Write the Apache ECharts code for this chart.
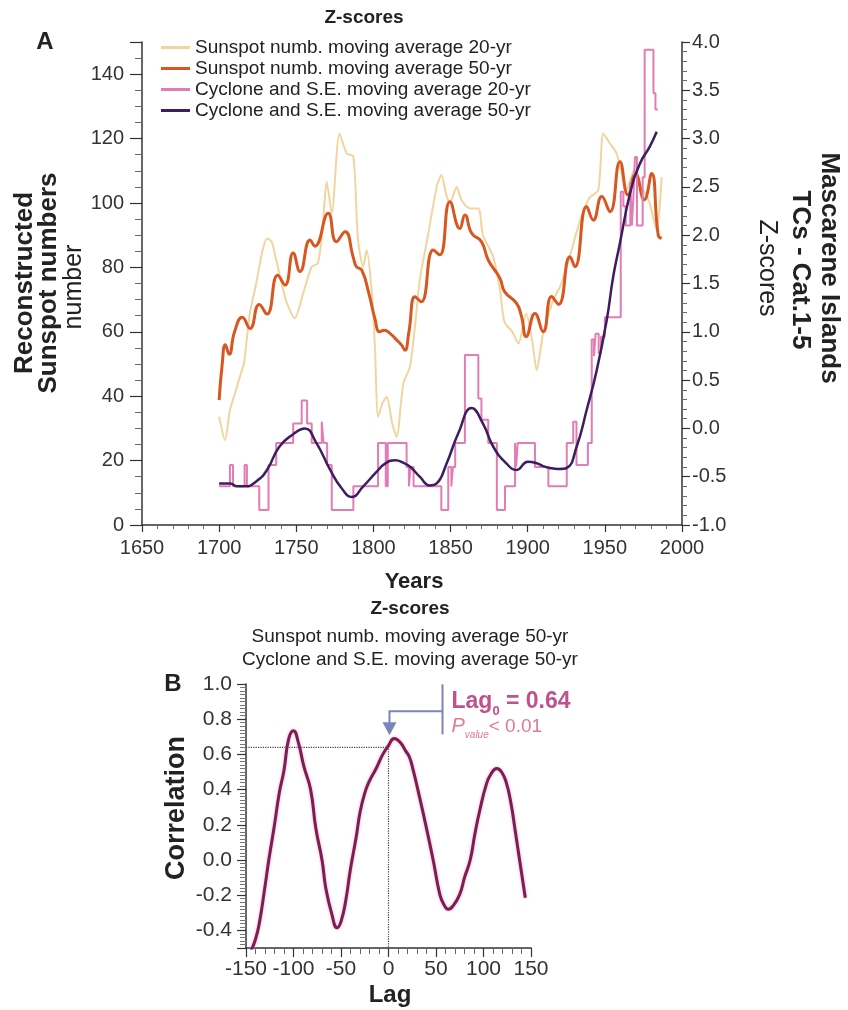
<!DOCTYPE html>
<html><head><meta charset="utf-8">
<script src="https://cdn.jsdelivr.net/npm/echarts@6/dist/echarts.min.js"></script>
<style>html,body{margin:0;padding:0;background:#fff}#c{width:848px;height:1010px}</style>
</head><body><div id="c"></div>
<script>
// ---------- DATA ----------
const sunspot20Years = [1700,1703.8,1707,1711,1714,1716,1718,1720,1724,1728,1731,1734,1737,1741,1744,1749,1754.5,1760,1764,1767,1769.7,1773,1778,1782.7,1787,1790,1793.4,1795.6,1799,1801,1803,1806,1808.6,1812,1815,1819.4,1823.7,1827,1830,1835.6,1841,1844,1847.5,1849.6,1854,1857,1862.6,1868,1871,1877.7,1882,1885,1890,1894,1899,1903,1905.8,1910,1916.6,1921,1927,1934,1940,1945.7,1949,1953.3,1957.6,1960.9,1964,1967,1970,1973,1976,1979,1983.6,1986.8];
const sunspot20Values = [33.6,26.4,35.7,42,47,50,58,66,75,85,89,88,82.3,74,68.8,64.2,72,80.2,81.3,92,106.6,96.8,121.6,115.4,114.4,88.5,80.2,85.4,72,55,33.6,38,39.8,32,27.4,44,49.2,62,76,90.6,105,108.7,102,100,105,101,98.3,98.3,90,83.3,73,63,60,56.4,65.7,57,48.1,59.5,70,74,83,94.7,101.6,104,121.6,118.5,115.4,109.2,104,108,111,106,103,100,91.6,108];

const sunspot50Years = [1700,1702,1704,1706.5,1710,1715,1720,1726,1731,1738,1742.7,1748,1752.4,1758.9,1762,1770.7,1776,1781.6,1787,1789,1792.4,1797,1801,1804,1807,1810.7,1815,1818,1820.4,1823,1827,1831,1838.8,1843,1849.6,1856,1859.3,1863.7,1870,1874.4,1882,1885,1892.8,1896,1899,1904.7,1910,1915.5,1920,1927.4,1930.6,1938.2,1942.5,1948,1953.3,1959.8,1965,1969.8,1975.5,1980.3,1984.6,1986.8];
const sunspot50Values = [38.8,50,56,53,60,64.5,61,68.5,65.5,77.6,74.5,84.5,78.7,88.5,86.6,96.8,88,91.1,83,80.2,79.2,72,64,60,60.5,59.5,57.5,56,54.3,60,70.9,69.3,85.4,83.9,100.4,92.1,96.3,90.6,88,82.3,76.6,72.5,68.8,64.7,58.5,65.7,60,71,68.5,83.3,80.2,98.9,94.7,102,97.3,112.8,102.5,109,101,109.2,90,89];

const cyclone20Years = [1700,1707,1709,1716.5,1718,1726,1732,1737,1748,1753.5,1757,1760,1766.5,1767.7,1770,1773,1787,1803,1808,1809.3,1821.5,1823,1824,1826,1844,1848.5,1850.5,1851.5,1853,1859.3,1868,1870,1874.4,1880,1885.3,1891.8,1892.5,1893.5,1904.7,1913.4,1925.3,1929.5,1931.6,1939,1941.5,1943,1944,1946,1947.5,1950,1960.3,1962,1963.5,1966.5,1967.5,1968.5,1969.5,1970.8,1974.5,1975.8,1981.5,1982.8,1984.3];
const cyclone20Values = [-0.6,-0.38,-0.6,-0.38,-0.6,-0.845,-0.38,-0.15,0.05,0.29,0.05,-0.15,0.07,-0.15,-0.38,-0.845,-0.6,-0.15,-0.6,-0.15,-0.4,-0.6,-0.4,-0.6,-0.845,-0.4,-0.6,-0.4,-0.15,0.76,0.31,0.09,-0.15,-0.845,-0.6,-0.15,-0.4,-0.15,-0.4,-0.6,-0.15,0.07,-0.38,-0.15,0.92,0.75,0.98,0.78,0.95,1.15,2.45,2.3,2.1,2.55,2.1,2.4,2.81,2.1,2.6,3.92,3.47,3.3,3.3];

const cyclone50Years = [1700,1707,1712,1717,1724,1731,1739,1748,1755.5,1763,1772,1779.4,1786,1793.4,1802,1808,1814,1820,1824,1830,1836.6,1841,1847.5,1855,1863.7,1871,1877.7,1886,1892.8,1900,1905.8,1910,1914.4,1920,1925.2,1931.7,1938.2,1944.7,1951.2,1955.4,1959.8,1966.3,1972.7,1979.2,1983.6];
const cyclone50Values = [-0.57,-0.57,-0.6,-0.6,-0.55,-0.43,-0.19,-0.06,0.0,-0.15,-0.43,-0.62,-0.71,-0.6,-0.45,-0.36,-0.33,-0.36,-0.4,-0.5,-0.59,-0.57,-0.36,-0.05,0.21,0.05,-0.19,-0.36,-0.43,-0.345,-0.36,-0.39,-0.41,-0.42,-0.41,-0.19,0.19,0.6,1.12,1.57,1.92,2.43,2.74,2.92,3.07];

const lags = [-145,-140,-136,-130,-126,-120,-115,-110,-105,-100,-95,-89,-82,-76.5,-70,-66,-60,-54,-50,-45,-40,-34,-30,-25,-20,-13,-6,0,6,12,18,22,26,33,40,47,54,58,63,68,75,80,86,91,96,103,108,114,119,124,129,133,138,144];
const correlations = [-0.52,-0.45,-0.36,-0.15,0.0,0.2,0.38,0.51,0.69,0.735,0.67,0.53,0.4,0.18,0.0,-0.16,-0.3,-0.385,-0.35,-0.23,-0.05,0.13,0.27,0.38,0.45,0.52,0.6,0.65,0.69,0.67,0.62,0.585,0.51,0.35,0.18,0.0,-0.195,-0.25,-0.28,-0.26,-0.195,-0.1,0.0,0.15,0.28,0.43,0.49,0.52,0.5,0.44,0.32,0.18,0.0,-0.215];

const lagZero = 0;
const lagZeroCorr = 0.64;
const lagMin = -150;
const corrMin = -0.5;

const seriesNames = ['Sunspot numb. moving average 20-yr','Sunspot numb. moving average 50-yr','Cyclone and S.E. moving average 20-yr','Cyclone and S.E. moving average 50-yr'];
// ---------- END DATA ----------

const zip = (a, b) => a.map((v, i) => [v, b[i]]);
const FF = '"Liberation Sans", Arial, Helvetica, sans-serif';
const chart = echarts.init(document.getElementById('c'));

const axisCommon = (o) => Object.assign({
  type: 'value',
  splitLine: {show: false},
  axisLine: {show: true, onZero: false, lineStyle: {color: '#333', width: 1.5}},
  axisTick: {show: true, lineStyle: {color: '#333', width: 1.2}},
  minorTick: {show: true, lineStyle: {color: '#666', width: 1}},
  axisLabel: {color: '#333', fontFamily: FF}
}, o);

function txt(x, y, text, font, opts) {
  return Object.assign({
    type: 'text', x: x, y: y, silent: true,
    style: {text: text, font: font, fill: '#222', align: 'center', verticalAlign: 'middle'}
  }, opts || {});
}

const option = {
  animation: false,
  backgroundColor: '#fff',
  textStyle: {fontFamily: FF},
  grid: [
    {left: 142, right: 166, top: 42, bottom: 485},
    {left: 246, right: 317, top: 684, bottom: 62}
  ],
  legend: {
    data: seriesNames,
    orient: 'vertical', left: 156, top: 33,
    icon: 'rect',
    itemWidth: 29, itemHeight: 3, itemGap: 2,
    textStyle: {fontSize: 19, color: '#222', fontFamily: FF, lineHeight: 19},
    selectedMode: false
  },
  xAxis: [
    axisCommon({gridIndex: 0, min: 1650, max: 2000, interval: 50,
      axisTick: {show: true, length: 7, lineStyle: {color: '#333', width: 1.2}},
      minorTick: {show: true, splitNumber: 5, length: 4, lineStyle: {color: '#666'}},
      axisLabel: {fontSize: 20, color: '#333', margin: 13, fontFamily: FF, formatter: v => String(v)}}),
    axisCommon({gridIndex: 1, min: -150, max: 150, interval: 50,
      axisTick: {show: true, length: 9, lineStyle: {color: '#333', width: 1.2}},
      minorTick: {show: true, splitNumber: 5, length: 6, lineStyle: {color: '#666'}},
      axisLabel: {fontSize: 21, color: '#333', margin: 11, fontFamily: FF, formatter: v => String(v)}})
  ],
  yAxis: [
    axisCommon({gridIndex: 0, position: 'left', min: 0, max: 150, interval: 20,
      axisTick: {show: true, length: 12, lineStyle: {color: '#333', width: 1.2}},
      minorTick: {show: true, splitNumber: 4, length: 7, lineStyle: {color: '#666'}},
      axisLabel: {fontSize: 20, color: '#333', margin: 18, fontFamily: FF,
        formatter: v => (v % 20 === 0 ? String(v) : '')}}),
    axisCommon({gridIndex: 0, position: 'right', min: -1, max: 4, interval: 0.5,
      axisTick: {show: true, length: 8, lineStyle: {color: '#333', width: 1.2}},
      minorTick: {show: true, splitNumber: 5, length: 5, lineStyle: {color: '#666'}},
      axisLabel: {fontSize: 20, color: '#333', margin: 10, fontFamily: FF,
        formatter: v => v.toFixed(1)}}),
    axisCommon({gridIndex: 1, position: 'left', min: corrMin, max: 1.0, splitNumber: 7,
      minInterval: 0.2, maxInterval: 0.2,
      axisTick: {show: true, length: 9, lineStyle: {color: '#333', width: 1.2}},
      minorTick: {show: true, splitNumber: 10, length: 6, lineStyle: {color: '#777'}},
      axisLabel: {fontSize: 21, color: '#333', margin: 14, fontFamily: FF,
        formatter: v => (Math.abs(v - corrMin) < 1e-9 ? '' : v.toFixed(1))}})
  ],
  series: [
    {name: seriesNames[0], type: 'line', xAxisIndex: 0, yAxisIndex: 0, data: zip(sunspot20Years, sunspot20Values),
      smooth: 0.25, symbol: 'none', lineStyle: {color: '#f2d59e', width: 2}, itemStyle: {color: '#f2d59e'}, z: 2},
    {name: seriesNames[1], type: 'line', xAxisIndex: 0, yAxisIndex: 0, data: zip(sunspot50Years, sunspot50Values),
      smooth: 0.5, symbol: 'none', lineStyle: {color: '#d8561f', width: 3}, itemStyle: {color: '#d8561f'}, z: 3},
    {name: seriesNames[2], type: 'line', xAxisIndex: 0, yAxisIndex: 1, data: zip(cyclone20Years, cyclone20Values),
      step: 'end', symbol: 'none', lineStyle: {color: '#e27db4', width: 2}, itemStyle: {color: '#e27db4'}, z: 4},
    {name: seriesNames[3], type: 'line', xAxisIndex: 0, yAxisIndex: 1, data: zip(cyclone50Years, cyclone50Values),
      smooth: 0.5, symbol: 'none', lineStyle: {color: '#3e1c62', width: 2.5}, itemStyle: {color: '#3e1c62'}, z: 5},
    {name: 'correlation', type: 'line', xAxisIndex: 1, yAxisIndex: 2, data: zip(lags, correlations),
      smooth: 0.5, symbol: 'none', clip: true,
      lineStyle: {color: '#7b1f52', width: 3, shadowColor: 'rgba(240,140,190,0.8)', shadowBlur: 3}, z: 3},
    {name: 'ref', type: 'line', xAxisIndex: 1, yAxisIndex: 2,
      data: [[lagMin, lagZeroCorr], [lagZero, lagZeroCorr], [lagZero, corrMin]],
      symbol: 'none', silent: true, lineStyle: {color: '#444', width: 1.2, type: 'dotted'}, z: 2}
  ]
};
chart.setOption(option);

const p0 = chart.convertToPixel({gridIndex: 1}, [lagZero, lagZeroCorr]);
const px = p0[0], py = p0[1];
const arrowColor = '#7d83bb';

chart.setOption({
  graphic: [
    txt(364, 18, 'Z-scores', 'bold 19px ' + FF),
    txt(45, 42, 'A', 'bold 24px ' + FF),
    txt(25, 283, 'Reconstructed', 'bold 26px ' + FF, {rotation: Math.PI / 2}),
    txt(49, 283, 'Sunspot numbers', 'bold 26px ' + FF, {rotation: Math.PI / 2}),
    txt(74, 287, 'number', '25px ' + FF, {rotation: Math.PI / 2}),
    txt(829, 268, 'Mascarene Islands', 'bold 26px ' + FF, {rotation: -Math.PI / 2}),
    txt(800, 270, 'TCs - Cat.1-5', 'bold 26px ' + FF, {rotation: -Math.PI / 2}),
    txt(767, 268, 'Z-scores', '25px ' + FF, {rotation: -Math.PI / 2}),
    txt(414, 582, 'Years', 'bold 22px ' + FF),
    txt(410, 609, 'Z-scores', 'bold 19px ' + FF),
    txt(410, 637, 'Sunspot numb. moving average 50-yr', '19px ' + FF),
    txt(410, 660, 'Cyclone and S.E. moving average 50-yr', '19px ' + FF),
    txt(173, 684, 'B', 'bold 24px ' + FF),
    txt(177, 808, 'Correlation', 'bold 27px ' + FF, {rotation: Math.PI / 2}),
    txt(390, 995, 'Lag', 'bold 24px ' + FF),
    {type: 'polyline', silent: true, shape: {points: [[px + 54, py - 63], [px + 54, py - 13]]},
      style: {stroke: arrowColor, lineWidth: 2, fill: null}},
    {type: 'polyline', silent: true, shape: {points: [[px + 54, py - 36], [px + 1, py - 36], [px + 1, py - 24]]},
      style: {stroke: arrowColor, lineWidth: 2, fill: null}},
    {type: 'polygon', silent: true, shape: {points: [[px - 6, py - 25], [px + 8, py - 25], [px + 1, py - 12]]},
      style: {fill: arrowColor}},
    {type: 'text', silent: true, x: px + 63, y: py - 47,
      style: {text: '{a|Lag}{s|0}{a| = 0.64}', align: 'left', verticalAlign: 'middle',
        rich: {
          a: {fontSize: 23, fontWeight: 'bold', fill: '#c2508c', fontFamily: FF, lineHeight: 26, verticalAlign: 'bottom'},
          s: {fontSize: 13, fontWeight: 'bold', fill: '#c2508c', fontFamily: FF, lineHeight: 12, verticalAlign: 'bottom', padding: [0, 0, -5, 0]}
        }}},
    {type: 'text', silent: true, x: px + 63, y: py - 22,
      style: {text: '{p|P}{v|value}{t|< 0.01}', align: 'left', verticalAlign: 'middle',
        rich: {
          p: {fontSize: 20, fontStyle: 'italic', fill: '#e4788e', fontFamily: FF, lineHeight: 22, verticalAlign: 'bottom'},
          v: {fontSize: 10, fontStyle: 'italic', fill: '#e4788e', fontFamily: FF, lineHeight: 8, verticalAlign: 'bottom', padding: [0, 0, -4, 0]},
          t: {fontSize: 19, fill: '#e4788e', fontFamily: FF, lineHeight: 22, verticalAlign: 'bottom'}
        }}}
  ]
});
</script></body></html>
